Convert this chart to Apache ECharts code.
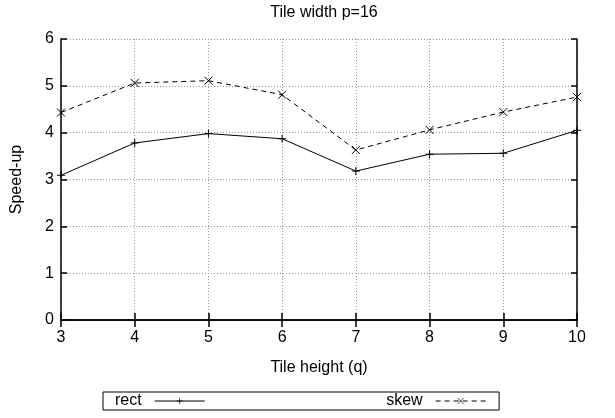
<!DOCTYPE html>
<html>
<head>
<meta charset="utf-8">
<script src="https://cdn.jsdelivr.net/npm/echarts@6/dist/echarts.min.js"></script>
<style>html,body{margin:0;padding:0;background:#fff}#c{width:615px;height:418px}</style>
</head>
<body>
<div id="c"></div>
<script>
var categories = [3, 4, 5, 6, 7, 8, 9, 10];
var rectValues = [3.09, 3.78, 3.98, 3.87, 3.18, 3.54, 3.56, 4.05];
var skewValues = [4.43, 5.06, 5.11, 4.81, 3.63, 4.06, 4.44, 4.76];
var yTicks = [0, 1, 2, 3, 4, 5, 6];

var FONT = 'Liberation Sans, Arial, sans-serif';
var chart = echarts.init(document.getElementById('c'), null, {renderer: 'canvas'});
function pairs(vals) { return categories.map(function (c, i) { return [c, vals[i]]; }); }

var plusSym = 'path://M0,5L10,5M5,0L5,10';
var crossSym = 'path://M0,0L10,10M10,0L0,10';

chart.setOption({
  animation: false,
  backgroundColor: '#fff',
  title: {
    text: 'Tile width p=16', left: 319, top: 0, textAlign: 'center',
    textStyle: {fontFamily: FONT, fontSize: 16, fontWeight: 'normal', color: '#000'}
  },
  grid: {left: 61, right: 38, top: 39, bottom: 98},
  legend: {
    left: 103, top: 392, orient: 'horizontal', align: 'right',
    itemGap: 181, itemWidth: 50, itemHeight: 8,
    padding: [1, 13, 1, 12],
    borderColor: '#000', borderWidth: 1, borderRadius: 0,
    lineStyle: {width: 1},
    itemStyle: {borderWidth: 0.7},
    textStyle: {fontFamily: FONT, fontSize: 16, color: '#000', padding: [1, 8, 0, 0]},
    data: ['rect', 'skew']
  },
  xAxis: [{
    type: 'value', min: 3, max: 10, interval: 1,
    name: 'Tile height (q)', nameLocation: 'middle', nameGap: 40,
    nameTextStyle: {fontFamily: FONT, fontSize: 16, color: '#000'},
    axisLine: {show: true, lineStyle: {color: '#000', width: 1.5}},
    axisTick: {show: true, inside: true, length: 7, lineStyle: {color: '#000', width: 1.5}},
    axisLabel: {fontFamily: FONT, fontSize: 16, color: '#000', margin: 10},
    splitLine: {show: true, lineStyle: {color: '#999', type: [1, 2], width: 1}}
  }, {
    type: 'value', min: 3, max: 10, interval: 1, position: 'top',
    axisLine: {show: true, lineStyle: {color: '#000', width: 1.5}},
    axisTick: {show: true, inside: true, length: 7, lineStyle: {color: '#000', width: 1.5}},
    axisLabel: {show: false}, splitLine: {show: false}
  }],
  yAxis: [{
    type: 'value', min: yTicks[0], max: yTicks[yTicks.length - 1], interval: 1,
    name: 'Speed-up', nameLocation: 'middle', nameGap: 36, nameRotate: 90,
    nameTextStyle: {fontFamily: FONT, fontSize: 16, color: '#000'},
    axisLine: {show: true, lineStyle: {color: '#000', width: 1.5}},
    axisTick: {show: true, inside: true, length: 6, lineStyle: {color: '#000', width: 1.5}},
    axisLabel: {fontFamily: FONT, fontSize: 16, color: '#000', margin: 7},
    splitLine: {show: true, lineStyle: {color: '#999', type: [1, 2], width: 1}}
  }, {
    type: 'value', min: yTicks[0], max: yTicks[yTicks.length - 1], interval: 1, position: 'right',
    axisLine: {show: true, lineStyle: {color: '#000', width: 1.5}},
    axisTick: {show: true, inside: true, length: 6, lineStyle: {color: '#000', width: 1.5}},
    axisLabel: {show: false}, splitLine: {show: false}
  }],
  series: [{
    name: 'rect', type: 'line', data: pairs(rectValues),
    symbol: plusSym, symbolSize: 8, showSymbol: true,
    lineStyle: {color: '#000', width: 1, type: 'solid'},
    itemStyle: {color: '#000', borderColor: '#000', borderWidth: 1}
  }, {
    name: 'skew', type: 'line', data: pairs(skewValues),
    symbol: crossSym, symbolSize: 8, showSymbol: true,
    lineStyle: {color: '#000', width: 1, type: [5, 4]},
    itemStyle: {color: '#000', borderColor: '#000', borderWidth: 1}
  }]
});
</script>
</body>
</html>
